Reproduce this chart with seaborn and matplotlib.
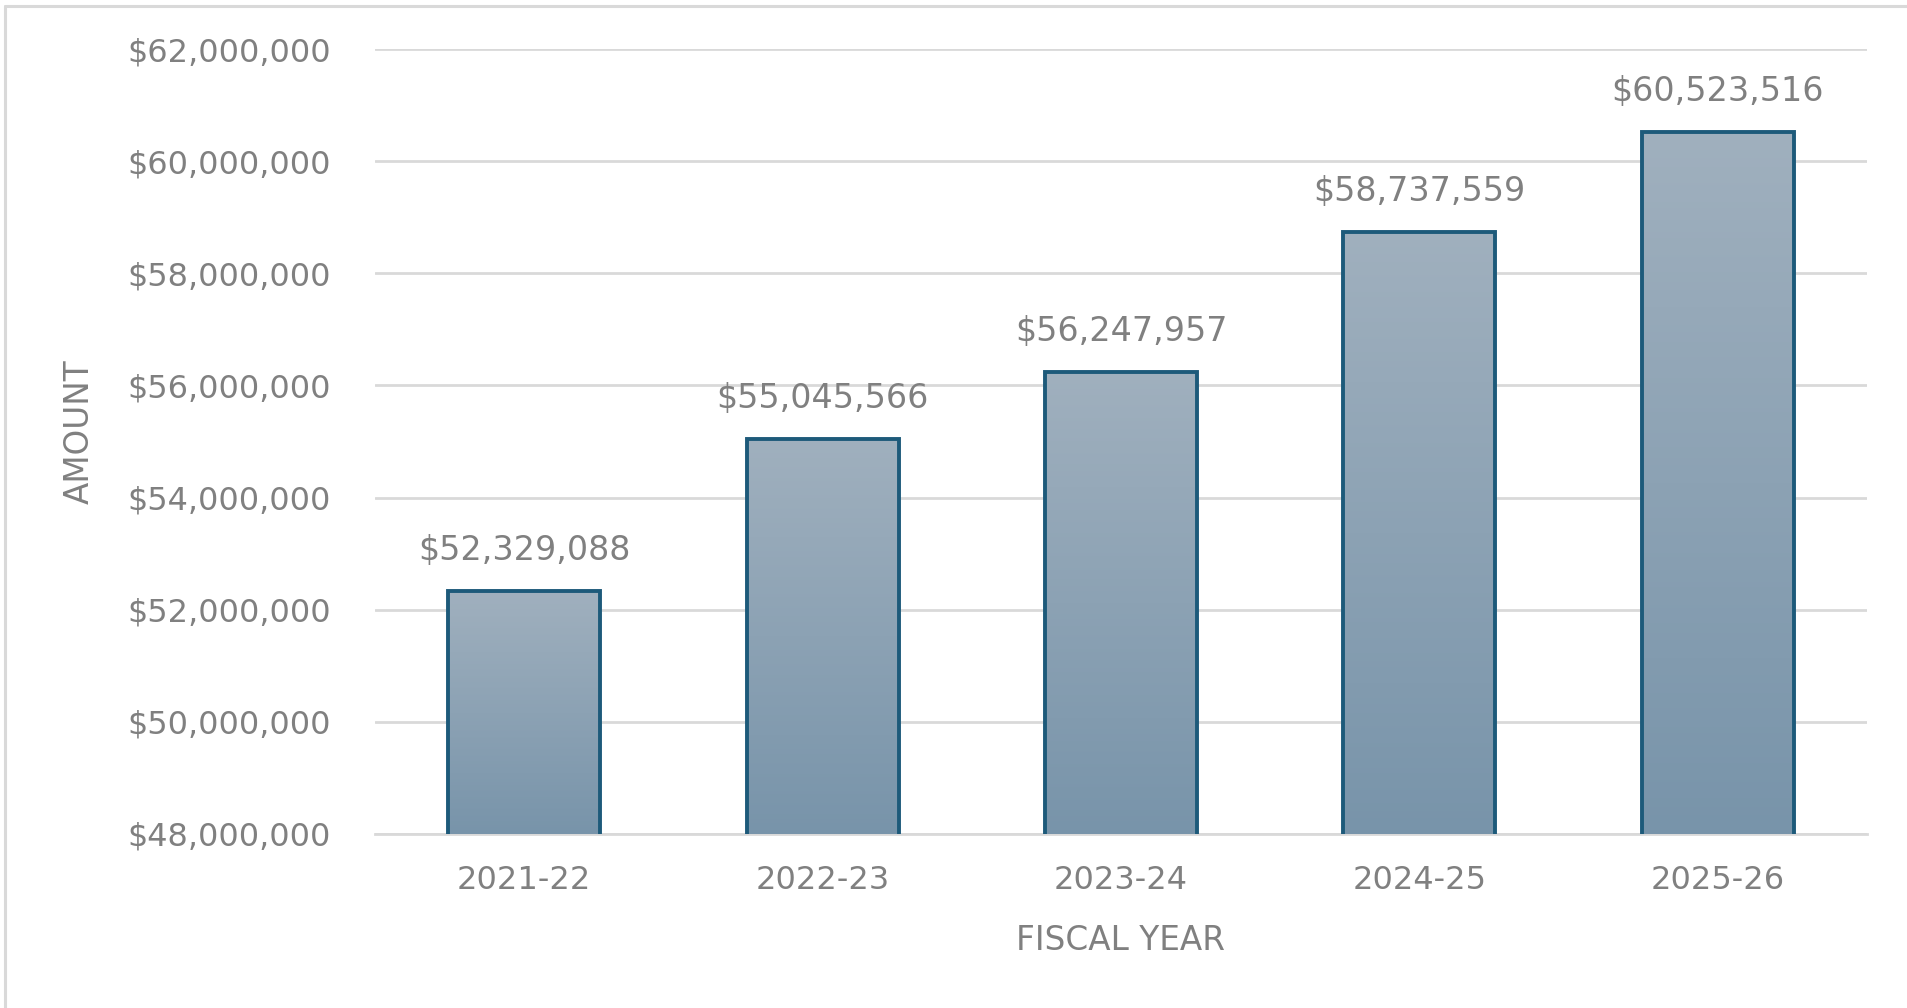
import numpy as np
import pandas as pd
import matplotlib
matplotlib.use("Agg")
import matplotlib.pyplot as plt
import seaborn as sns
from matplotlib.colors import LinearSegmentedColormap
from matplotlib.lines import Line2D
from matplotlib.ticker import FuncFormatter, MultipleLocator

# ---- data ----
years = ["2021-22", "2022-23", "2023-24", "2024-25", "2025-26"]
amounts = [52329088, 55045566, 56247957, 58737559, 60523516]
x_title = "FISCAL YEAR"
y_title = "AMOUNT"
y_min, y_max, y_step = 48_000_000, 62_000_000, 2_000_000

df = pd.DataFrame({"year": years, "amount": amounts})

sns.set_theme(style="white")
plt.rcParams["font.family"] = ["DejaVu Sans"]

TXT = "#808080"
GRID = "#d9d9d9"
EDGE = "#1d5a7a"

fig = plt.figure(figsize=(19.08, 10.08), dpi=100)
ax = fig.add_axes([375 / 1908, 1 - 834 / 1008, (1867 - 375) / 1908, (834 - 49) / 1008])

sns.barplot(data=df, x="year", y="amount", ax=ax, color="#8aa0b3",
            width=0.51, edgecolor=EDGE, linewidth=2.8, zorder=3)

ax.set_xlim(-0.5, len(years) - 0.5)
ax.set_ylim(y_min, y_max)
ax.yaxis.set_major_locator(MultipleLocator(y_step))
ax.yaxis.set_major_formatter(FuncFormatter(lambda v, p: f"${v:,.0f}"))
ax.grid(axis="y", color=GRID, linewidth=2.0, zorder=0)
ax.set_axisbelow(True)
for s in ["top", "right", "left"]:
    ax.spines[s].set_visible(False)
ax.spines["bottom"].set_color(GRID)
ax.spines["bottom"].set_linewidth(2.0)
ax.spines["bottom"].set_zorder(1)

ax.tick_params(axis="y", length=0, pad=32, labelsize=23, labelcolor=TXT)
ax.tick_params(axis="x", length=0, pad=22, labelsize=23, labelcolor=TXT)

ax.set_xlabel(x_title, fontsize=23.5, color=TXT, va="center")
ax.set_ylabel(y_title, fontsize=23.5, color=TXT, va="center")
ax.xaxis.set_label_coords(0.5, (834 - 941) / 785)
ax.yaxis.set_label_coords((79 - 375) / 1492, 0.512)

# gradient fill inside the visible part of each bar
cmap = LinearSegmentedColormap.from_list("g", ["#7894aa", "#a0b0be"])
grad = np.linspace(0, 1, 256).reshape(-1, 1)
for patch in ax.patches:
    x0 = patch.get_x()
    w = patch.get_width()
    top = patch.get_y() + patch.get_height()
    im = ax.imshow(grad, extent=[x0, x0 + w, y_min, top], origin="lower",
                   aspect="auto", cmap=cmap, zorder=3.5)
    im.set_clip_path(patch)
    patch.set_facecolor("none")
    patch.set_zorder(4)
    patch.set_clip_on(True)
    patch.set_clip_box(ax.bbox)
ax.set_xlim(-0.5, len(years) - 0.5)
ax.set_ylim(y_min, y_max)
ax.set_aspect("auto")

# data labels
for i, v in enumerate(amounts):
    ax.annotate(f"${v:,.0f}", (i, v), xytext=(0, 29), textcoords="offset points",
                ha="center", va="center", fontsize=24, color=TXT, zorder=5)

# outer frame (left and top visible)
fig.add_artist(Line2D([5.5 / 1908, 5.5 / 1908], [0, 1 - 5.5 / 1008],
                      transform=fig.transFigure, color=GRID, linewidth=2.2))
fig.add_artist(Line2D([5.5 / 1908, 1], [1 - 5.5 / 1008, 1 - 5.5 / 1008],
                      transform=fig.transFigure, color=GRID, linewidth=2.2))

fig.savefig("out.png", dpi=100)
